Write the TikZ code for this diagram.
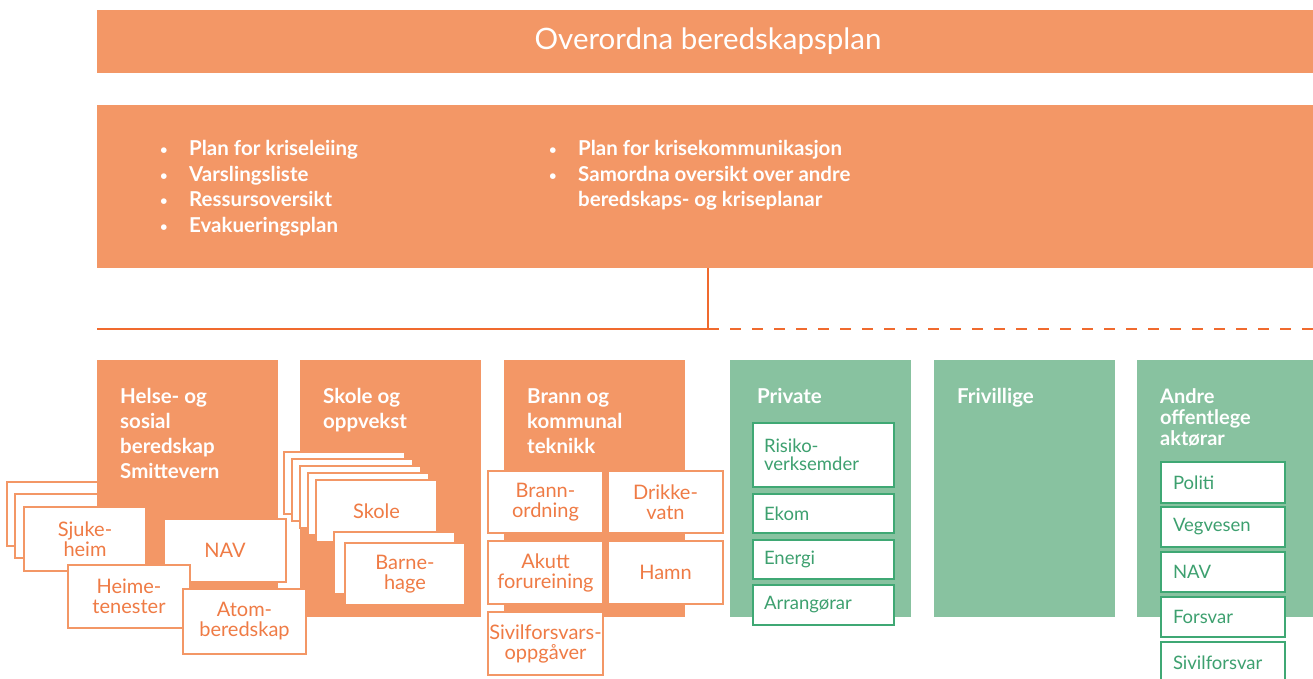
\documentclass[tikz,border=0pt]{standalone}
\usepackage{fontspec}
\setmainfont{Lato}
\definecolor{ofill}{HTML}{F39766}
\definecolor{otext}{HTML}{EF7B45}
\definecolor{oline}{HTML}{F06A2E}
\definecolor{gfill}{HTML}{88C2A0}
\definecolor{gline}{HTML}{3FA874}
\definecolor{gtext}{HTML}{3DA06F}
\newcommand\bl{\makebox[29pt][l]{\raisebox{1pt}{\fontsize{13}{13}\selectfont\textbullet}}}
\begin{document}
\begin{tikzpicture}[x=1pt,y=-1pt,
  box/.style={inner sep=0pt, outer sep=0pt, anchor=north west},
  obox/.style={box, fill=ofill},
  gbox/.style={box, fill=gfill},
  ocard/.style={box, fill=white, draw=ofill, line width=2pt, text=otext,
     font=\fontsize{20}{20}\selectfont, align=center},
  gcard/.style={box, fill=white, draw=gline, line width=2.5pt, text=gtext,
     font=\fontsize{18.5}{18}\selectfont, align=left},
  pcard/.style={gcard, inner xsep=11pt, text width=119pt, minimum width=141pt},
  acard/.style={gcard, inner xsep=12pt, text width=100pt, minimum width=124pt},
  head/.style={anchor=north west, inner sep=0pt, text=white,
     font=\bfseries\fontsize{20.5}{25}\selectfont, align=left},
  bul/.style={anchor=north west, inner sep=0pt, text=white,
     font=\bfseries\fontsize{20.5}{25.7}\selectfont, align=left},
  conn/.style={draw=oline, line width=1.5pt}
]
\useasboundingbox (0,0) rectangle (1313,679);
\clip (0,0) rectangle (1313,679);

% top bars
\node[obox, minimum width=1222pt, minimum height=63pt, text=white,
  font=\fontsize{29.5}{30}\selectfont] (title) at (97,10) {Overordna beredskapsplan};
\node[obox, minimum width=1222pt, minimum height=163pt] (plan) at (97,105) {};
\node[bul] (b1) at (160,140) {\bl Plan for kriseleiing\\
  \bl Varslingsliste\\
  \bl Ressursoversikt\\
  \bl Evakueringsplan};
\node[bul] (b2) at (549,140) {\bl Plan for krisekommunikasjon\\
  \bl Samordna oversikt over andre\\
  \hspace*{29pt}beredskaps- og kriseplanar};

% connectors
\coordinate (top) at (708,268);
\coordinate (j) at (708,329);
\coordinate (L) at (97,329);
\coordinate (R) at (1313,329);
\draw[conn] (top) -- (j);
\draw[conn] (L) -- (j);
\draw[conn, dash pattern=on 11pt off 11pt] (j) -- (R);

% Helse
\node[ocard, minimum width=122pt, minimum height=64pt] (hb1) at (7,482) {};
\node[ocard, minimum width=122pt, minimum height=64pt] (hb2) at (15,494) {};
\node[obox, minimum width=181pt, minimum height=257pt] (helse) at (97,360) {};
\node[head] (helseh) at (120,388) {Helse- og\\sosial\\beredskap\\Smittevern};
\node[ocard, minimum width=122pt, minimum height=64pt] (sjuke) at (24,507) {Sjuke-\\heim};
\node[ocard, minimum width=122pt, minimum height=63pt] (nav1) at (164,519) {NAV};
\node[ocard, minimum width=122pt, minimum height=63pt] (heime) at (68,565) {Heime-\\tenester};

% Skole
\node[obox, minimum width=181pt, minimum height=257pt] (skole) at (300,360) {};
\node[head] (skoleh) at (323,388) {Skole og\\oppvekst};
\node[ocard, minimum width=121pt, minimum height=62pt] (sb1) at (284,452) {};
\node[ocard, minimum width=121pt, minimum height=62pt] (sb2) at (292,459) {};
\node[ocard, minimum width=121pt, minimum height=62pt] (sb3) at (300,466) {};
\node[ocard, minimum width=121pt, minimum height=62pt] (sb4) at (308,473) {};
\node[ocard, minimum width=121pt, minimum height=62pt] (skolec) at (316,480) {Skole};
\node[ocard, minimum width=121pt, minimum height=62pt] (bb1) at (334,532) {};
\node[ocard, minimum width=120pt, minimum height=62pt] (barne) at (345,543) {Barne-\\hage};

\node[ocard, minimum width=123pt, minimum height=65pt] (atom) at (183,589) {Atom-\\beredskap};

% Brann
\node[obox, minimum width=181pt, minimum height=257pt] (brann) at (504,360) {};
\node[head] (brannh) at (527,388) {Brann og\\kommunal\\teknikk};
\node[ocard, minimum width=115pt, minimum height=62pt] (bo) at (488,471) {Brann-\\ordning};
\node[ocard, minimum width=115pt, minimum height=62pt] (dv) at (608,471) {Drikke-\\vatn};
\node[ocard, minimum width=115pt, minimum height=63pt] (af) at (488,541) {Akutt\\forureining};
\node[ocard, minimum width=115pt, minimum height=63pt] (hamn) at (608,541) {Hamn};
\node[ocard, minimum width=115pt, minimum height=63pt] (siv) at (488,612) {Sivilforsvars-\\oppgåver};

% Private
\node[gbox, minimum width=181pt, minimum height=257pt] (private) at (730,360) {};
\node[head] (privateh) at (757,388) {Private};
\node[pcard, minimum height=64pt] (risiko) at (753,423) {Risiko-\\verksemder};
\node[pcard, minimum height=39pt] (ekom) at (753,494) {Ekom};
\node[pcard, minimum height=39pt] (energi) at (753,540) {Energi};
\node[pcard, minimum height=40pt] (arr) at (753,585) {Arrangørar};

% Frivillige
\node[gbox, minimum width=181pt, minimum height=257pt] (friv) at (934,360) {};
\node[head] (frivh) at (957,388) {Frivillige};

% Andre
\node[gbox, minimum width=190pt, minimum height=257pt] (andre) at (1137,360) {};
\node[head, font=\bfseries\fontsize{20}{21}\selectfont] (andreh) at (1160,388) {Andre\\offentlege\\aktørar};
\node[acard, minimum height=41pt] (politi) at (1161,462) {Politi};
\node[acard, minimum height=40pt] (veg) at (1161,507) {Vegvesen};
\node[acard, minimum height=40pt] (nav2) at (1161,552) {NAV};
\node[acard, minimum height=40pt] (forsvar) at (1161,597) {Forsvar};
\node[acard, minimum height=42pt] (sivf) at (1161,642) {Sivilforsvar};
\end{tikzpicture}
\end{document}
